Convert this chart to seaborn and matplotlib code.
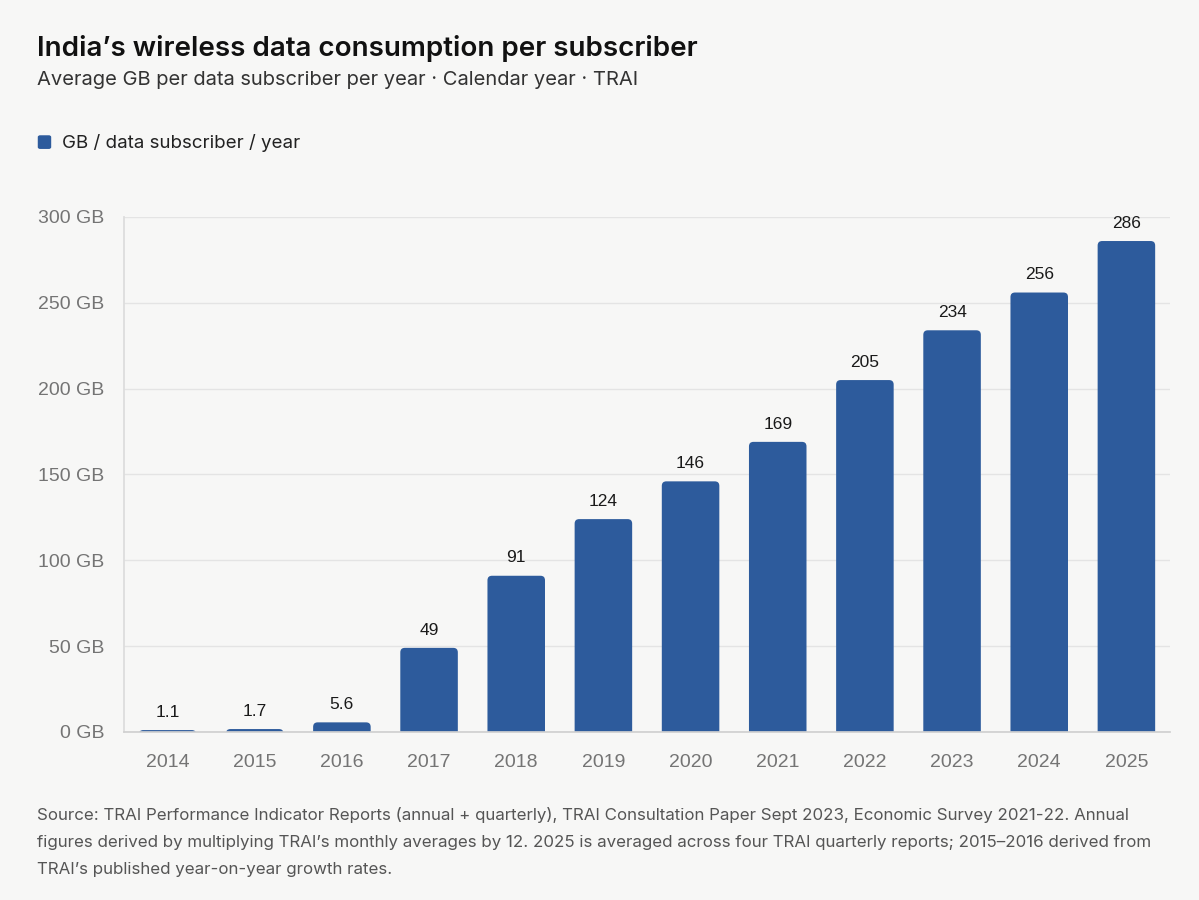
import pandas as pd
import numpy as np
import matplotlib.pyplot as plt
import seaborn as sns
from matplotlib.patches import FancyBboxPatch

# data
years = ['2014', '2015', '2016', '2017', '2018', '2019', '2020', '2021', '2022', '2023', '2024', '2025']
gb_per_year = [1.1, 1.7, 5.6, 49, 91, 124, 146, 169, 205, 234, 256, 286]
bar_labels = ['1.1', '1.7', '5.6', '49', '91', '124', '146', '169', '205', '234', '256', '286']
y_ticks = [0, 50, 100, 150, 200, 250, 300]

bg = '#f7f7f6'
bar_color = '#2d5b9c'

sns.set_theme(style='white')
plt.rcParams['font.family'] = ['Inter', 'DejaVu Sans']

df = pd.DataFrame({'year': years, 'gb': gb_per_year})

fig = plt.figure(figsize=(11.99, 9.0), dpi=100, facecolor=bg)
ax = fig.add_axes([0.1034, 0.1867, 0.8724, 0.5722])
ax.set_facecolor(bg)

sns.barplot(data=df, x='year', y='gb', color=bar_color, width=0.66, saturation=1, ax=ax)

ax.set_xlim(-0.5, len(years) - 0.5)
ax.set_ylim(0, 300)

# swap the plain bars for ones with rounded top corners (bottom is clipped at 0)
px_x = 0.8724 * 1199 / len(years)   # pixels per x unit
px_y = 0.5722 * 900 / 300           # pixels per y unit
r = 4.5 / px_x
for p in list(ax.patches):
    x0, w, h = p.get_x(), p.get_width(), p.get_height()
    p.remove()
    fb = FancyBboxPatch((x0, -6), w, h + 6,
                        boxstyle=f'round,pad=0,rounding_size={r}',
                        mutation_aspect=px_x / px_y,
                        facecolor=bar_color, edgecolor='none', zorder=2)
    ax.add_patch(fb)

for i, (v, lab) in enumerate(zip(gb_per_year, bar_labels)):
    ax.text(i, v + 6, lab, ha='center', va='bottom', fontsize=12.5, color='#1a1a1a',
            family='Liberation Sans')

ax.set_yticks(y_ticks)
ax.set_yticklabels([f'{t} GB' for t in y_ticks])
ax.tick_params(axis='y', length=9, width=1, color='#dcdcdc', labelsize=14, labelcolor='#747474', pad=5)
ax.tick_params(axis='x', length=0, labelsize=14, labelcolor='#747474', pad=16)
ax.yaxis.grid(True, color='#e4e4e4', linewidth=1)
ax.set_axisbelow(True)
ax.set_xlabel('')
ax.set_ylabel('')
for s in ['top', 'right']:
    ax.spines[s].set_visible(False)
ax.spines['left'].set_color('#dcdcdc')
ax.spines['bottom'].set_color('#d0d0d0')
plt.setp(ax.get_xticklabels() + ax.get_yticklabels(), family='Liberation Sans')

fig.text(0.031, 0.938, 'India\u2019s wireless data consumption per subscriber', fontsize=20,
         fontweight='semibold', color='#111111', va='baseline')
fig.text(0.031, 0.906, 'Average GB per data subscriber per year \u00b7 Calendar year \u00b7 TRAI',
         fontsize=14.5, color='#333333', va='baseline')

fig.patches.append(FancyBboxPatch((0.0315, 0.8345), 0.0112, 0.0152, transform=fig.transFigure,
                                  boxstyle='round,pad=0,rounding_size=0.002',
                                  facecolor=bar_color, edgecolor='none', figure=fig))
fig.text(0.052, 0.835, 'GB / data subscriber / year', fontsize=13.5, color='#222222', va='baseline')

footer_lines = ['Source: TRAI Performance Indicator Reports (annual + quarterly), TRAI Consultation Paper Sept 2023, Economic Survey 2021-22. Annual',
                'figures derived by multiplying TRAI\u2019s monthly averages by 12. 2025 is averaged across four TRAI quarterly reports; 2015\u20132016 derived from',
                'TRAI\u2019s published year-on-year growth rates.']
for k, line in enumerate(footer_lines):
    fig.text(0.031, 0.0945 - k * 0.0303, line, fontsize=12.2, color='#555555', va='center')

fig.savefig('out.png', dpi=100, facecolor=bg)
